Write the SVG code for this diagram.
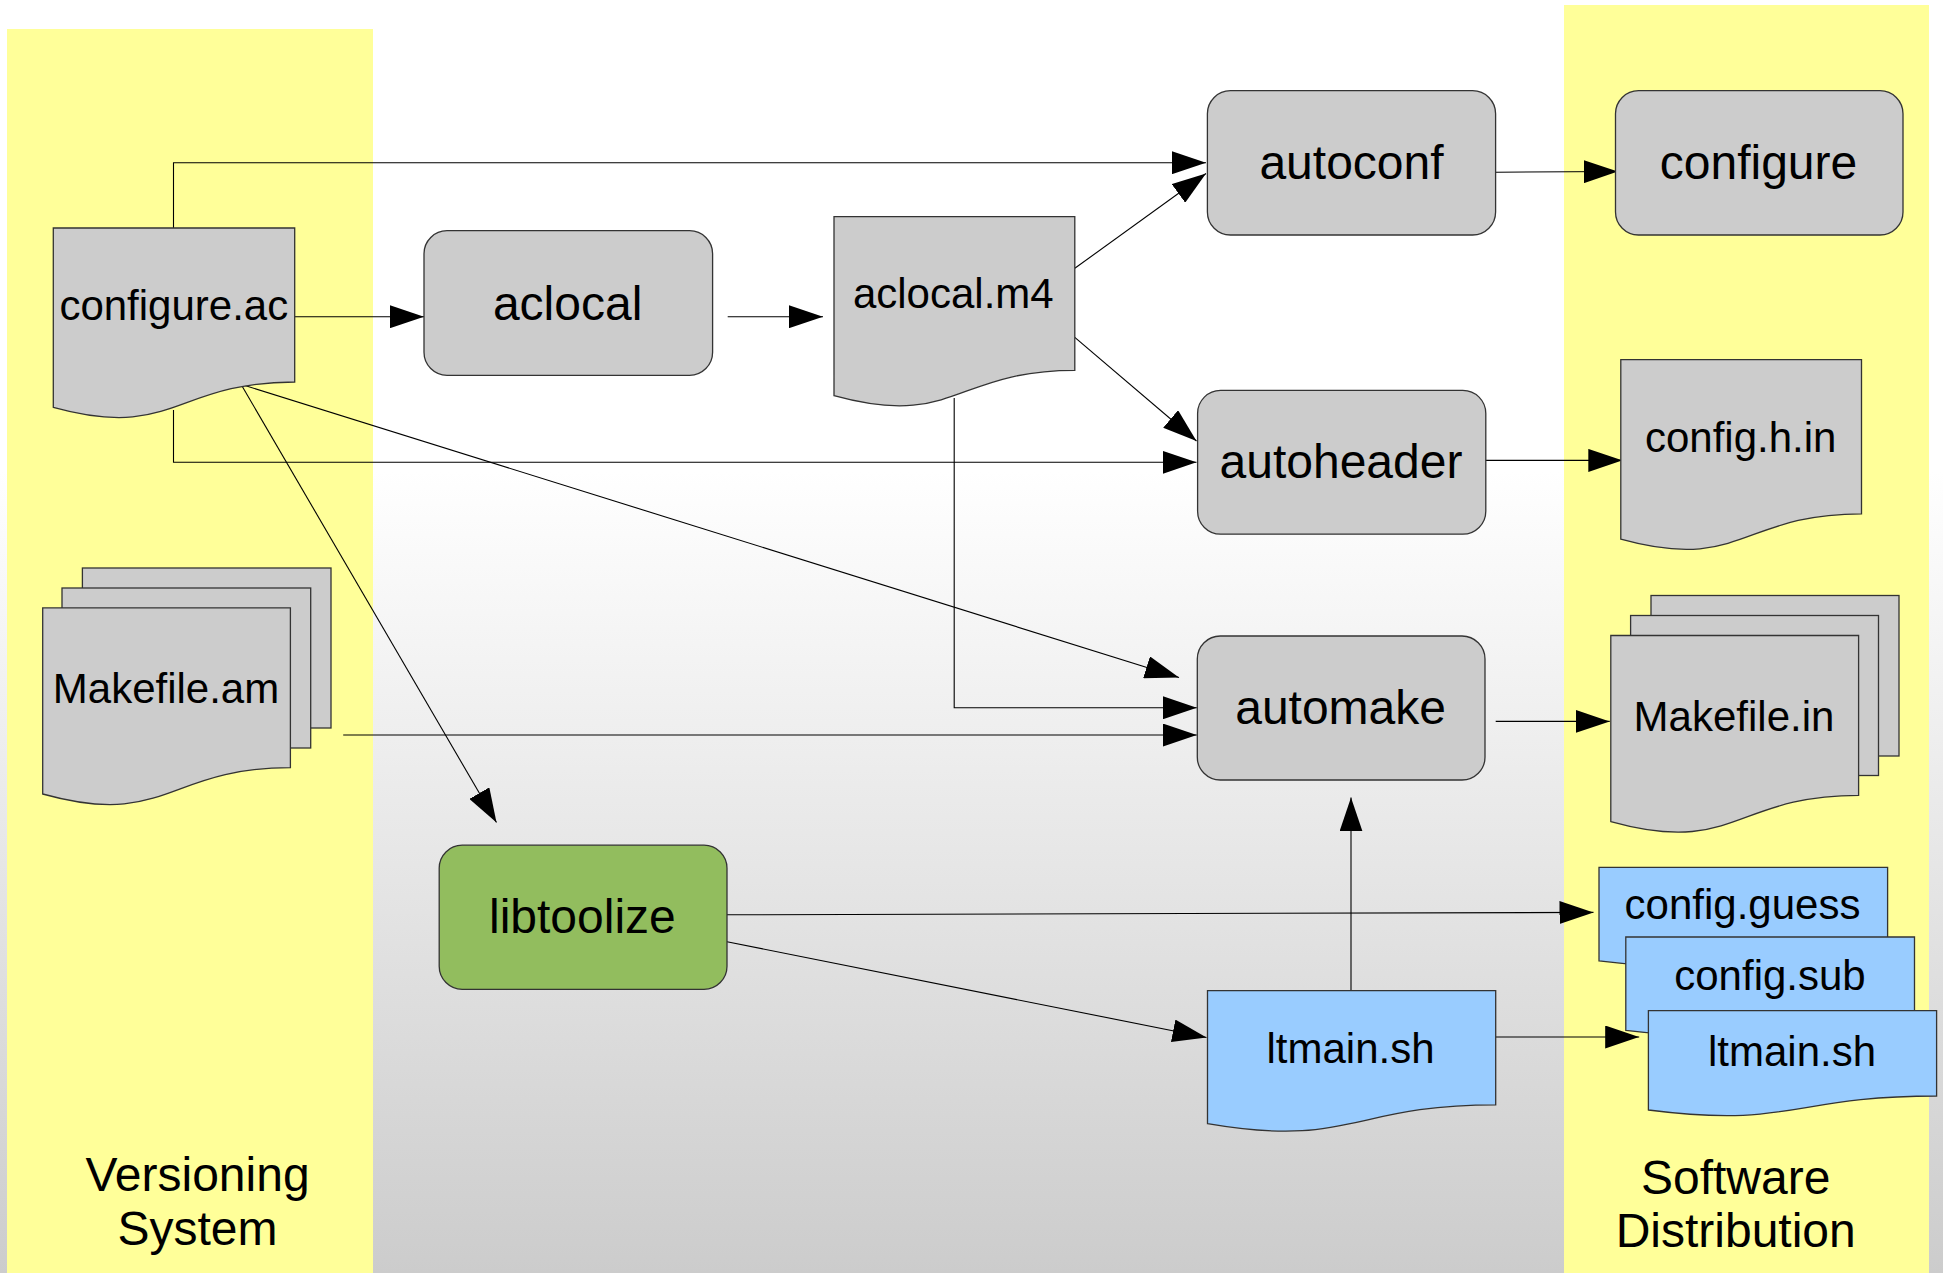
<svg xmlns="http://www.w3.org/2000/svg" width="1943" height="1273" viewBox="0 0 1943 1273">
<defs>
<linearGradient id="bg" x1="0" y1="0" x2="0" y2="1">
<stop offset="0" stop-color="#ffffff"/>
<stop offset="0.37" stop-color="#ffffff"/>
<stop offset="1" stop-color="#cccccc"/>
</linearGradient>
<marker id="arr" markerUnits="userSpaceOnUse" markerWidth="34" markerHeight="23" refX="34" refY="11.5" orient="auto" viewBox="0 0 34 23">
<path d="M0,0 L34,11.5 L0,23 Z" fill="#000"/>
</marker>
<style>
.band{fill:#ffff99;stroke:none}
.proc{fill:#cccccc;stroke:#333333;stroke-width:1.3}
.doc{fill:#cccccc;stroke:#333333;stroke-width:1.3}
.blue{fill:#99ccff;stroke:#333333;stroke-width:1.3}
.green{fill:#92bd5e;stroke:#333333;stroke-width:1.3}
.lbl{font-family:"Liberation Sans",Arial,sans-serif;font-size:48px;fill:#000;text-anchor:middle}
.dl{font-family:"Liberation Sans",Arial,sans-serif;font-size:42px;fill:#000;text-anchor:middle}
#connectors line,#connectors polyline{stroke:#000;stroke-width:1.1;fill:none;marker-end:url(#arr)}
</style>
</defs>
<rect x="0" y="0" width="1943" height="1273" fill="url(#bg)"/>
<g id="bands">
<rect class="band" x="7" y="29" width="366" height="1244"/>
<rect class="band" x="1564" y="5" width="365" height="1268"/>
<text class="lbl" x="197.5" y="1191">Versioning</text>
<text class="lbl" x="197.5" y="1245">System</text>
<text class="lbl" x="1735.7" y="1194">Software</text>
<text class="lbl" x="1735.7" y="1247">Distribution</text>
</g>
<g id="connectors">
<polyline points="173.5,228 173.5,162.7 1206,162.7"/>
<line x1="294.7" y1="316.7" x2="424" y2="316.7"/>
<line x1="727.7" y1="316.7" x2="823" y2="316.7"/>
<line x1="1074.8" y1="268.3" x2="1206" y2="173.5"/>
<line x1="1074.8" y1="337.3" x2="1196.5" y2="441"/>
<polyline points="173.5,410 173.5,462.3 1196.5,462.3"/>
<line x1="241" y1="384.3" x2="1179" y2="677.5"/>
<line x1="241" y1="384.3" x2="496.5" y2="822.5"/>
<polyline points="954.2,398 954.2,707.8 1196.8,707.8"/>
<line x1="343.2" y1="735" x2="1196.8" y2="735"/>
<line x1="1495.7" y1="721.4" x2="1609.7" y2="721.4"/>
<line x1="1351" y1="990.6" x2="1351" y2="797.4"/>
<line x1="727" y1="914.8" x2="1593.5" y2="912.4"/>
<line x1="727" y1="941.7" x2="1206.5" y2="1037.5"/>
<line x1="1495.7" y1="1037" x2="1639.2" y2="1037"/>
<line x1="1495.6" y1="172.2" x2="1617.8" y2="171.5"/>
<line x1="1480.5" y1="460.4" x2="1622.3" y2="460.4"/>
</g>
<g id="configure-ac">
<path class="doc" d="M53.3,228 H294.7 V382 C174,382 174,440.7 53.3,407.3 Z"/>
<text class="dl" x="173.8" y="320">configure.ac</text>
</g>
<g id="aclocal">
<rect class="proc" x="424" y="230.7" width="288.6" height="144.6" rx="23" ry="23"/>
<text class="lbl" x="567.6" y="320">aclocal</text>
</g>
<g id="aclocal-m4">
<path class="doc" d="M834,216.7 H1074.8 V370.4 C954.4,370.4 954.4,428.9 834,395.7 Z"/>
<text class="dl" x="953.3" y="308.3">aclocal.m4</text>
</g>
<g id="autoconf">
<rect class="proc" x="1207.4" y="90.7" width="288.2" height="144.3" rx="23" ry="23"/>
<text class="lbl" x="1351.5" y="179">autoconf</text>
</g>
<g id="configure">
<rect class="proc" x="1615.5" y="90.7" width="287.5" height="144.3" rx="23" ry="23"/>
<text class="lbl" x="1758.5" y="179">configure</text>
</g>
<g id="autoheader">
<rect class="proc" x="1197.6" y="390.4" width="288.2" height="143.8" rx="23" ry="23"/>
<text class="lbl" x="1341" y="478.4">autoheader</text>
</g>
<g id="config-h-in">
<path class="doc" d="M1620.8,359.7 H1861.5 V513.8 C1741.2,513.8 1741.2,572.6 1620.8,539.2 Z"/>
<text class="dl" x="1740.7" y="451.6">config.h.in</text>
</g>
<g id="makefile-am">
<rect class="doc" x="82.4" y="568" width="248.6" height="160"/>
<rect class="doc" x="62" y="588" width="248.7" height="160"/>
<path class="doc" d="M42.7,607.9 H290.4 V767.7 C166.6,767.7 166.6,828.6 42.7,794 Z"/>
<text class="dl" x="166" y="702.5">Makefile.am</text>
</g>
<g id="automake">
<rect class="proc" x="1197.3" y="636" width="287.7" height="144" rx="23" ry="23"/>
<text class="lbl" x="1340.6" y="723.7">automake</text>
</g>
<g id="makefile-in">
<rect class="doc" x="1651" y="595.5" width="248" height="160.5"/>
<rect class="doc" x="1630.6" y="615.5" width="247.9" height="160"/>
<path class="doc" d="M1610.8,635.5 H1858.6 V795.3 C1734.7,795.3 1734.7,856.1 1610.8,821.6 Z"/>
<text class="dl" x="1734" y="730.5">Makefile.in</text>
</g>
<g id="libtoolize">
<rect class="green" x="439.2" y="845.2" width="287.8" height="144.1" rx="23" ry="23"/>
<text class="lbl" x="582.4" y="933">libtoolize</text>
</g>
<g id="ltmain-sh">
<path class="blue" d="M1207.5,990.6 H1495.7 V1104.8 C1351.6,1104.8 1351.6,1148.3 1207.5,1123.6 Z"/>
<text class="dl" x="1350.5" y="1062.5">ltmain.sh</text>
</g>
<g id="config-guess">
<path class="blue" d="M1599,867.4 H1887.6 V947.6 C1743.3,947.6 1743.3,978.2 1599,960.8 Z"/>
<text class="dl" x="1742.5" y="919">config.guess</text>
</g>
<g id="config-sub">
<path class="blue" d="M1625.8,937 H1914.5 V1017.2 C1770.2,1017.2 1770.2,1047.8 1625.8,1030.4 Z"/>
<text class="dl" x="1770" y="989.7">config.sub</text>
</g>
<g id="ltmain-sh-dist">
<path class="blue" d="M1648.4,1010.7 H1936.6 V1096 C1792.5,1096 1792.5,1128.4 1648.4,1110 Z"/>
<text class="dl" x="1792" y="1066">ltmain.sh</text>
</g>
</svg>
